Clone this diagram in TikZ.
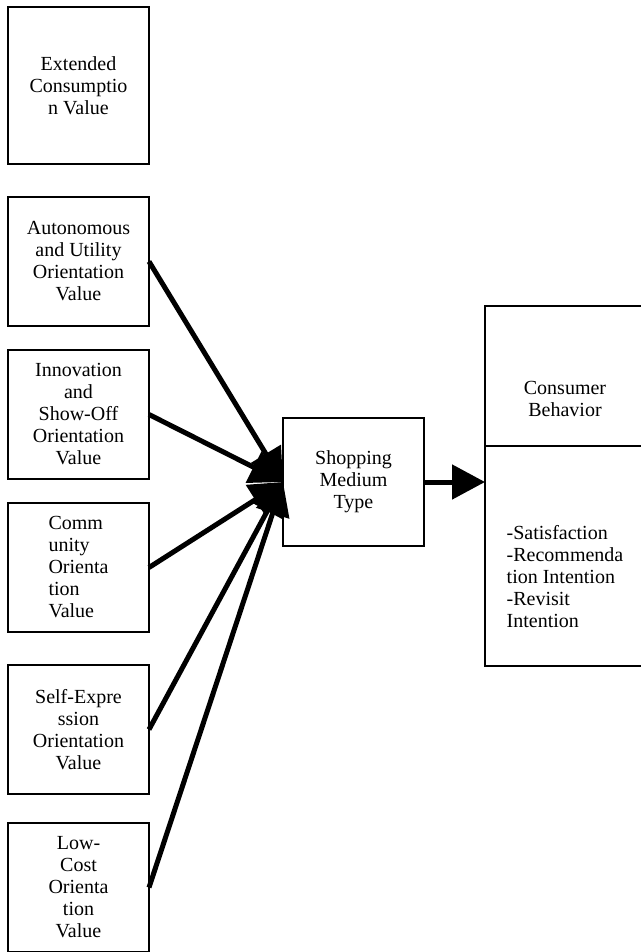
\documentclass[tikz,border=0pt]{standalone}
\usepackage{fontspec}
\setmainfont{Liberation Serif}
\usetikzlibrary{arrows.meta,positioning}

\begin{document}
\begin{tikzpicture}[x=1pt,y=1pt,
  font=\fontsize{20}{22}\selectfont,
  valbox/.style={draw,line width=1.6pt,outer sep=0pt,minimum width=141pt,
                 minimum height=129pt,align=center},
  flow/.style={line width=5pt,-{Triangle[length=33pt,width=34pt]}}]
  \useasboundingbox (0,0) rectangle (640,-952);
  \node[valbox,minimum height=157pt] (extval) at (78.5,-85.5)
        {Extended\\Consumptio\\n Value};
  \node[valbox,below=33pt of extval] (autoval)
        {Autonomous\\and Utility\\Orientation\\Value};
  \node[valbox,below=24pt of autoval] (innoval)
        {Innovation\\and\\Show-Off\\Orientation\\Value};
  \node[valbox,align=left,below=24pt of innoval] (commval)
        {Comm\\unity\\Orienta\\tion\\Value};
  \node[valbox,below=33pt of commval] (selfval)
        {Self-Expre\\ssion\\Orientation\\Value};
  \node[valbox,below=29pt of selfval] (costval)
        {Low-\\Cost\\Orienta\\tion\\Value};
  \node[valbox,minimum height=128pt] (medium) at (353.5,-482)
        {Shopping\\Medium\\Type};
  \node[valbox,minimum width=160pt,minimum height=140pt,
        label={[align=center,yshift=-23pt]center:Consumer\\Behavior}] (behtop) at (565,-376) {};
  \node[valbox,minimum width=160pt,minimum height=220pt,below=0pt of behtop,
        label={[align=left,yshift=-21pt]center:-Satisfaction\\-Recommenda\\tion Intention\\-Revisit\\Intention}] (behbot) {};
  \foreach \src in {autoval,innoval,commval,selfval,costval}
    \draw[flow] (\src.east) -- (medium.west);
  \draw[flow] (medium.east) -- (medium.east -| behbot.west);
\end{tikzpicture}
\end{document}
